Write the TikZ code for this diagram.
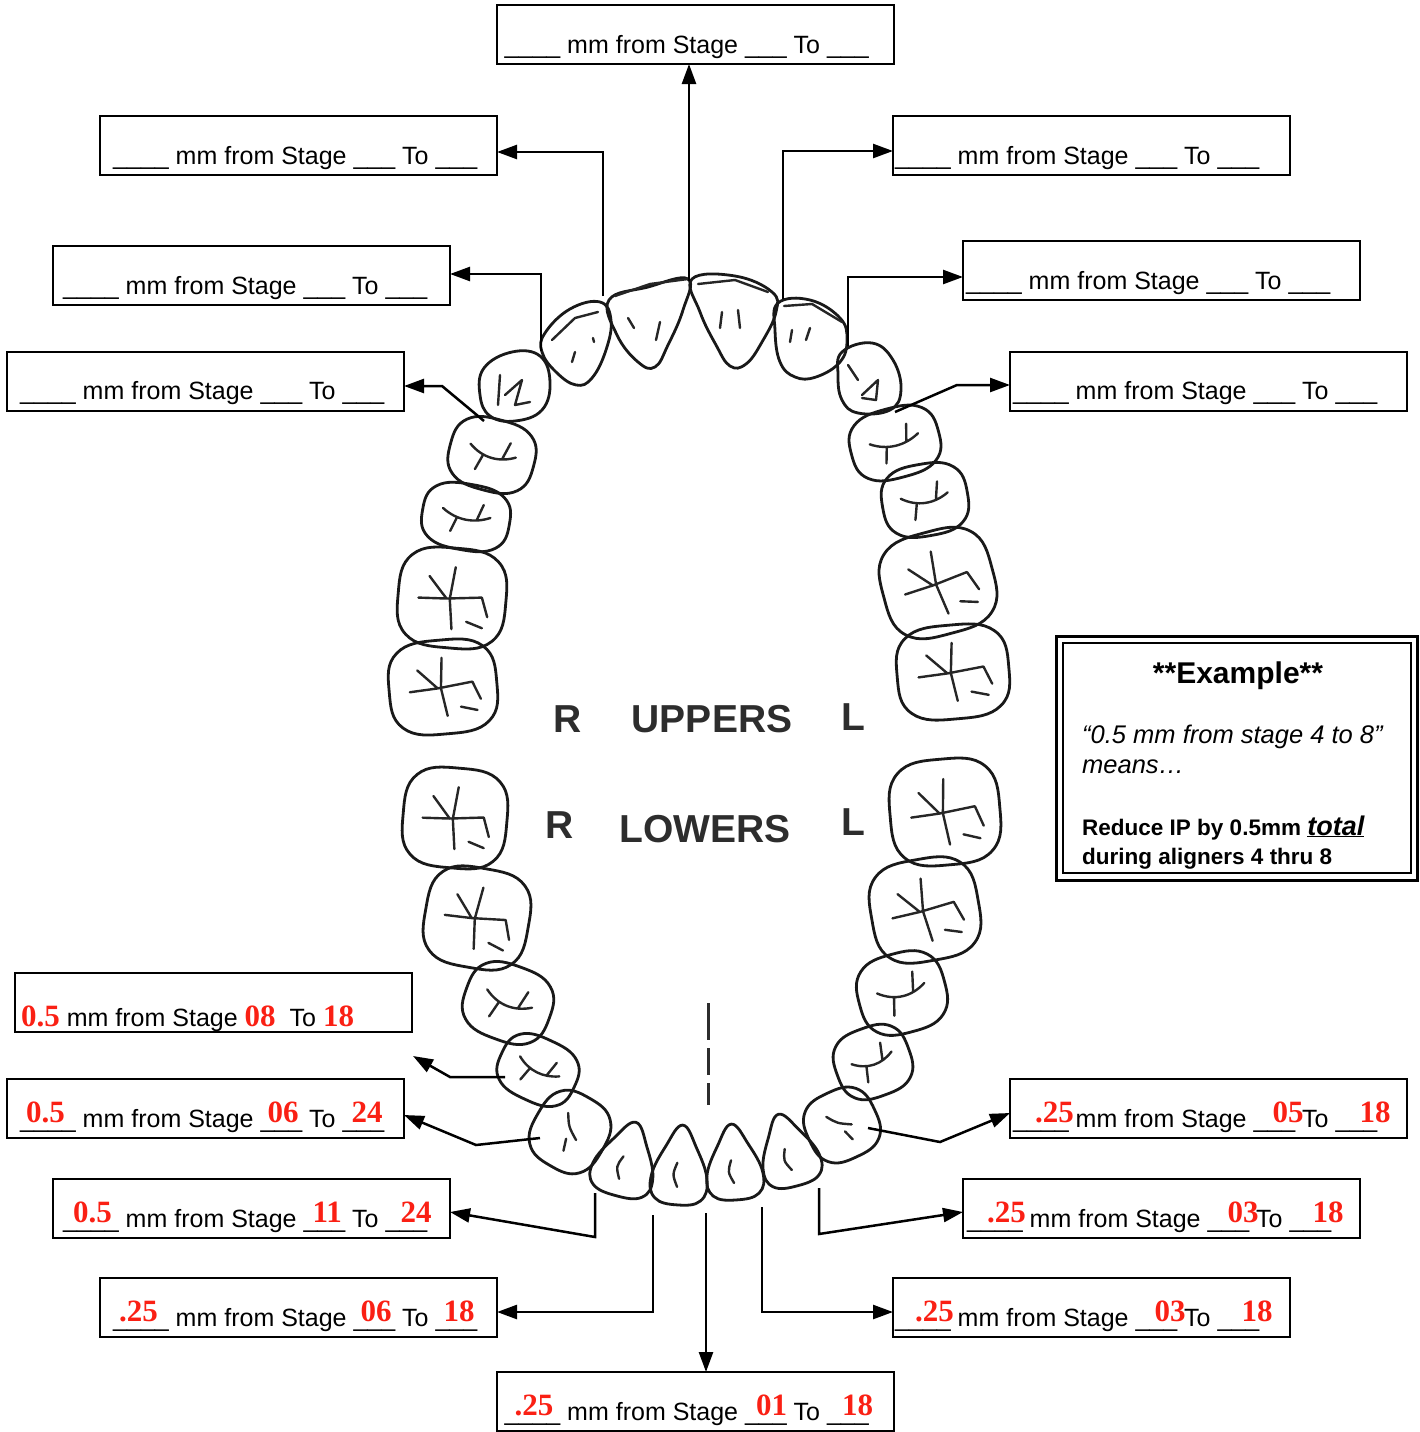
\documentclass[tikz,border=0pt]{standalone}
\usepackage{fontspec}
\setmainfont{Liberation Sans}
\newfontfamily\serifnum{Liberation Serif}
\usetikzlibrary{arrows.meta}
\definecolor{numred}{RGB}{250,32,20}
\definecolor{lblgray}{RGB}{45,45,45}
\newcommand\boxfont{\fontsize{25}{30}\selectfont}
\newcommand\rn[1]{{\serifnum\bfseries\fontsize{31}{31}\selectfont\color{numred}#1}}
\newcommand\fillnum[3]{\makebox[0pt][l]{\hspace*{#1pt}\raisebox{5pt}{\rn{#2}}}#3}
\newcommand\uq{\_\_\_\_}
\newcommand\ut{\_\_\_}
\newcommand\blankline{\uq{} mm from Stage \ut{} To \ut}
\newcommand\molar[5]{\begin{scope}[shift={(#1,#2)},rotate=#5,xscale=#3,yscale=#4]
 \draw[tooth] plot[smooth cycle,tension=0.75] coordinates{(1,0)(0.8,0.8)(0,1)(-0.8,0.8)(-1,0)(-0.8,-0.8)(0,-1)(0.8,-0.8)};
 \draw[fiss] (-0.62,0.05)--(-0.1,0.02)--(0.55,-0.06) (0.02,-0.62)--(-0.04,0.02)--(0.04,0.62) (0.55,-0.06)--(0.68,0.32) (-0.1,0.02)--(-0.45,-0.4) (0.3,0.45)--(0.6,0.55);
\end{scope}}
\newcommand\premolar[5]{\begin{scope}[shift={(#1,#2)},rotate=#5,xscale=#3,yscale=#4]
 \draw[tooth] plot[smooth cycle,tension=0.75] coordinates{(1,0)(0.78,0.78)(0,1)(-0.78,0.78)(-1,0)(-0.78,-0.78)(0,-1)(0.78,-0.78)};
 \draw[fiss] (-0.55,-0.15) .. controls (-0.2,0.15) and (0.2,0.15) .. (0.55,-0.1) (-0.2,0.05)--(-0.3,0.5) (0.25,0.05)--(0.35,-0.45);
\end{scope}}
\newcommand\canine[5]{\begin{scope}[shift={(#1,#2)},rotate=#5,xscale=#3,yscale=#4]
 \draw[tooth] plot[smooth cycle,tension=0.75] coordinates{(1,0)(0.78,0.78)(0,1)(-0.78,0.78)(-1,0)(-0.78,-0.78)(0,-1)(0.78,-0.78)};
 \draw[fiss] (-0.3,-0.4) .. controls (-0.1,-0.1) .. (0.25,0.1) (0.0,0.2)--(0.1,0.5);
\end{scope}}
\newcommand\lowinc[5]{\begin{scope}[shift={(#1,#2)},rotate=#5,xscale=#3,yscale=#4]
 \draw[tooth] plot[smooth cycle,tension=0.7] coordinates{(0,-1)(0.55,-0.45)(1,0.32)(0.82,0.86)(0,1)(-0.82,0.86)(-1,0.32)(-0.55,-0.45)};
 \draw[fiss] (-0.1,-0.05) .. controls (-0.25,0.25) .. (-0.05,0.55);
\end{scope}}
\begin{document}
\begin{tikzpicture}[x=1pt,y=-1pt,
 box/.style={draw, line width=2pt, minimum width=397pt, minimum height=59pt, inner sep=0pt, outer sep=0pt},
 lbl/.style={anchor=base west, inner sep=0pt, font=\boxfont},
 conn/.style={line width=2.5pt, -{Triangle[length=20pt,width=14pt]}},
 tooth/.style={line width=2.8pt, draw=black!90, line join=round},
 fiss/.style={line width=2.4pt, draw=black!85, line cap=round, line join=round},
 arch/.style={font=\bfseries\fontsize{39}{39}\selectfont, text=lblgray, inner sep=0pt, anchor=base},
]
\useasboundingbox (0,0) rectangle (1419,1432);

% ---------- teeth: upper arch ----------
\molar{443}{687}{54}{47}{5}
\molar{452}{598}{54}{50}{-5}
\premolar{466}{517}{44}{33}{-10}
\premolar{492}{455}{43}{36}{-15}
\draw[tooth] plot[smooth cycle,tension=0.7] coordinates{(484,368)(512,352)(540,356)(550,382)(542,410)(515,421)(490,416)(480,395)};
\draw[fiss] (500,375)--(498,405) (505,395)--(522,380)--(515,405)--(530,402);
\draw[tooth] plot[smooth cycle,tension=0.7] coordinates{(545,333)(570,309)(600,302)(611,320)(606,350)(592,378)(576,385)(556,372)(542,352)};
\draw[fiss] (552,340)--(575,318)--(598,312) (575,352)--(572,362) (593,338)--(594,342);
\draw[tooth] plot[smooth cycle,tension=0.7] coordinates{(609,300)(648,287)(688,279)(683,310)(668,345)(655,367)(638,362)(617,335)};
\draw[fiss] (615,296)--(650,284)--(688,279) (628,318)--(634,328) (660,322)--(656,340);
\draw[tooth] plot[smooth cycle,tension=0.7] coordinates{(692,279)(735,276)(772,292)(776,312)(762,342)(746,364)(730,366)(716,345)(700,312)};
\draw[fiss] (698,284)--(735,280)--(768,292) (722,312)--(720,328) (738,310)--(740,328);
\draw[tooth] plot[smooth cycle,tension=0.7] coordinates{(778,303)(810,300)(840,318)(847,340)(840,362)(816,377)(795,377)(780,362)(775,330)};
\draw[fiss] (784,306)--(812,304)--(842,322) (792,330)--(790,342) (810,328)--(806,340);
\draw[tooth] plot[smooth cycle,tension=0.7] coordinates{(842,352)(872,343)(893,360)(901,390)(890,410)(858,413)(842,400)(838,375)};
\draw[fiss] (848,365)--(858,380) (862,395)--(878,380)--(876,400)--(862,398);
\premolar{895}{443}{45}{35}{15}
\premolar{925}{500}{43}{36}{10}
\molar{938}{583}{56}{52}{15}
\molar{953}{672}{56}{47}{5}

% ---------- teeth: lower arch ----------
\molar{455}{818}{52}{50}{-5}
\molar{477}{918}{52}{50}{-10}
\premolar{508}{1003}{44}{38}{-20}
\premolar{538}{1070}{40}{32}{-25}
\canine{570}{1132}{37}{39}{-30}
\lowinc{626}{1159}{31}{38}{-15}
\lowinc{680}{1165}{28}{40}{-4}
\lowinc{734}{1162}{28}{38}{4}
\lowinc{788}{1150}{29}{37}{15}
\canine{842}{1125}{36}{35}{25}
\premolar{873}{1062}{38}{35}{20}
\premolar{902}{993}{44}{40}{15}
\molar{925}{910}{54}{51}{10}
\molar{945}{812}{55}{53}{5}

% midline
\draw[line width=3pt, lblgray] (708,1003)--(708,1040) (708,1048)--(708,1075) (708,1083)--(708,1105);

% arch labels
\node[arch] (uR) at (568,732) {R};
\node[arch] (uU) at (712,732) {UPPERS};
\node[arch] (uL) at (853,730) {L};
\node[arch] (lR) at (560,838) {R};
\node[arch] (lW) at (705,842) {LOWERS};
\node[arch] (lL) at (853,835) {L};

% ---------- boxes ----------
\node[box] (T0)  at (695,34.5) {};
\node[box] (TL1) at (298.5,145.5) {};
\node[box] (TR1) at (1091.5,145.5) {};
\node[box] (TL2) at (251.5,275.5) {};
\node[box] (TR2) at (1161.5,270.5) {};
\node[box] (TL3) at (205.5,381) {};
\node[box] (TR3) at (1208.5,381) {};
\node[box] (BL1) at (213.5,1002.5) {};
\node[box] (BL2) at (205.5,1108.5) {};
\node[box] (BR2) at (1208.5,1108.5) {};
\node[box] (BL3) at (251.5,1208.5) {};
\node[box] (BR3) at (1161.5,1208.5) {};
\node[box] (BL4) at (298.5,1307.5) {};
\node[box] (BR4) at (1091.5,1307.5) {};
\node[box] (B0)  at (695,1401.5) {};

\node[lbl] (tT0)  at ([xshift=8pt,yshift=11pt]T0.south west) {\blankline};
\node[lbl] (tTL1) at ([xshift=13pt,yshift=11pt]TL1.south west) {\blankline};
\node[lbl] (tTR1) at ([xshift=2pt,yshift=11pt]TR1.south west) {\blankline};
\node[lbl] (tTL2) at ([xshift=10pt,yshift=11pt]TL2.south west) {\blankline};
\node[lbl] (tTR2) at ([xshift=3pt,yshift=11pt]TR2.south west) {\blankline};
\node[lbl] (tTL3) at ([xshift=13pt,yshift=11pt]TL3.south west) {\blankline};
\node[lbl] (tTR3) at ([xshift=3pt,yshift=11pt]TR3.south west) {\blankline};

\node[lbl] (tBL1) at ([xshift=6pt,yshift=6pt]BL1.south west) {\rn{0.5} mm from Stage \rn{08}\hspace{14pt}To \rn{18}};
\node[lbl] (tBL2) at ([xshift=13pt,yshift=10.5pt]BL2.south west) {\fillnum{6}{0.5}{\uq} mm from Stage \fillnum{7}{06}{\ut} To \fillnum{9}{24}{\ut}};
\node[lbl] (tBL3) at ([xshift=10pt,yshift=10.5pt]BL3.south west) {\fillnum{10}{0.5}{\uq} mm from Stage \fillnum{9}{11}{\ut} To \fillnum{15}{24}{\ut}};
\node[lbl] (tBL4) at ([xshift=13pt,yshift=10.5pt]BL4.south west) {\fillnum{6}{.25}{\uq} mm from Stage \fillnum{7}{06}{\ut} To \fillnum{8}{18}{\ut}};
\node[lbl] (tB0)  at ([xshift=8pt,yshift=10.5pt]B0.south west) {\fillnum{10}{.25}{\uq} mm from Stage \fillnum{11}{01}{\ut} To \fillnum{15}{18}{\ut}};
\node[lbl] (tBR2) at ([xshift=3pt,yshift=10.5pt]BR2.south west) {\fillnum{22}{.25}{\uq} mm from Stage \fillnum{19}{05}{\ut} To \fillnum{24}{18}{\ut}};
\node[lbl] (tBR3) at ([xshift=4pt,yshift=10.5pt]BR3.south west) {\fillnum{20}{.25}{\uq} mm from Stage \fillnum{20}{03}{\ut} To \fillnum{23}{18}{\ut}};
\node[lbl] (tBR4) at ([xshift=2pt,yshift=10.5pt]BR4.south west) {\fillnum{20}{.25}{\uq} mm from Stage \fillnum{19}{03}{\ut} To \fillnum{24}{18}{\ut}};

% ---------- example box ----------
\node[draw, line width=3pt, minimum width=361pt, minimum height=244pt, inner sep=0pt] (ex) at (1236.5,758) {};
\node[minimum width=348pt, minimum height=230pt, inner sep=0pt] (exin) at (1237,758) {};
\begin{scope}
\clip (exin.south west) rectangle (exin.north east);
\node[anchor=base, inner sep=0pt, font=\bfseries\fontsize{30}{36}\selectfont] (exT) at (1238,683) {**Example**};
\node[anchor=base west, inner sep=0pt, font=\itshape\fontsize{25.5}{30}\selectfont] (ex1) at (1082,743) {“0.5 mm from stage 4 to 8”};
\node[anchor=base west, inner sep=0pt, font=\itshape\fontsize{25.5}{30}\selectfont] (ex2) at (1082,773) {means…};
\node[anchor=base west, inner sep=0pt, font=\bfseries\fontsize{22.5}{27}\selectfont] (ex3) at (1082,835) {Reduce IP by 0.5mm {\fontsize{27}{30}\selectfont\itshape\underline{total}}};
\node[anchor=base west, inner sep=0pt, font=\bfseries\fontsize{22.5}{27}\selectfont] (ex4) at (1082,864) {during aligners 4 thru 8};
\end{scope}
\draw[line width=2.5pt] (exin.south west) rectangle (exin.north east);

% ---------- connectors ----------
\coordinate (a0) at (689,281);
\coordinate (a1) at (603,296);
\coordinate (a2) at (783,299);
\coordinate (a3) at (541,351);
\coordinate (a4) at (848,346);
\coordinate (a5) at (484,421); \coordinate (b5) at (442,386);
\coordinate (a6) at (895,412); \coordinate (b6) at (957,385);
\draw[conn] (a0) -- (a0 |- T0.south);
\draw[conn] (a1) |- ([yshift=-6.5pt]TL1.east);
\draw[conn] (a2) |- ([yshift=-5.5pt]TR1.west);
\draw[conn] (a3) |- ([yshift=1.5pt]TL2.east);
\draw[conn] (a4) |- ([yshift=-6.5pt]TR2.west);
\draw[conn] (a5) -- (b5) -- ([yshift=-5pt]TL3.east);
\draw[conn] (a6) -- (b6) -- ([yshift=-4pt]TR3.west);

\coordinate (c1) at (505,1077); \coordinate (d1) at (450,1077); \coordinate (e1) at (413,1056);
\coordinate (c2) at (540,1138); \coordinate (d2) at (476,1145);
\coordinate (c3) at (868,1128); \coordinate (d3) at (940,1142);
\coordinate (c4) at (595,1193); \coordinate (d4) at (595,1237);
\coordinate (c5) at (819,1188); \coordinate (d5) at (819,1234);
\coordinate (c6) at (653,1215);
\coordinate (c7) at (762,1207);
\coordinate (c8) at (706,1213);
\draw[conn] (c1) -- (d1) -- (e1);
\draw[conn] (c2) -- (d2) -- ([yshift=-6.5pt]BL2.east);
\draw[conn] (c3) -- (d3) -- ([yshift=-4.5pt]BR2.west);
\draw[conn] (c4) -- (d4) -- ([yshift=-3.5pt]BL3.east);
\draw[conn] (c5) -- (d5) -- ([yshift=-3.5pt]BR3.west);
\draw[conn] (c6) |- ([yshift=-4.5pt]BL4.east);
\draw[conn] (c7) |- ([yshift=-4.5pt]BR4.west);
\draw[conn] (c8) -- (c8 |- B0.north);
\end{tikzpicture}
\end{document}
